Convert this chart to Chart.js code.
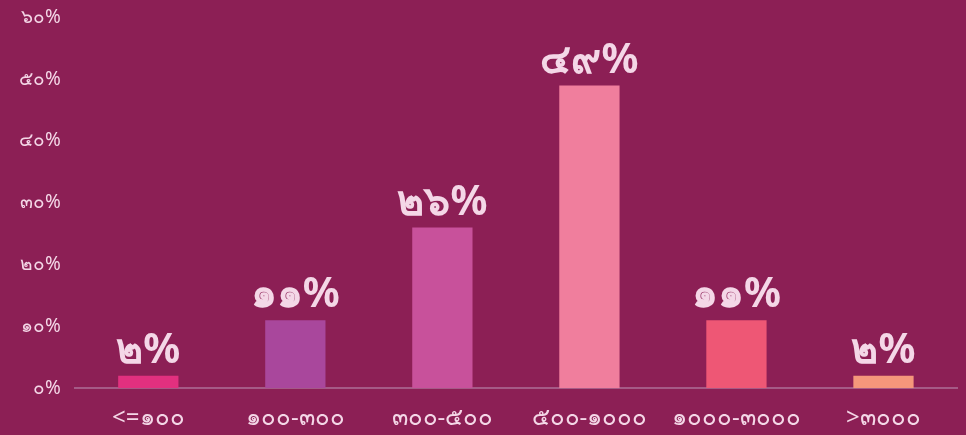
<!DOCTYPE html>
<html>
<head>
<meta charset="utf-8">
<script src="https://cdn.jsdelivr.net/npm/chart.js@4/dist/chart.umd.min.js"></script>
<style>
  html, body { margin: 0; padding: 0; background: #8c1f55; }
  #wrap { width: 966px; height: 435px; }
</style>
</head>
<body>
<div id="wrap"><canvas id="barChart"></canvas></div>
<script>
const categories = ['<=๑๐๐', '๑๐๐-๓๐๐', '๓๐๐-๕๐๐', '๕๐๐-๑๐๐๐', '๑๐๐๐-๓๐๐๐', '>๓๐๐๐'];
const shares = [2, 11, 26, 49, 11, 2];
const shareLabels = ['๒%', '๑๑%', '๒๖%', '๔๙%', '๑๑%', '๒%'];
const yTickLabels = ['๐%', '๑๐%', '๒๐%', '๓๐%', '๔๐%', '๕๐%', '๖๐%'];
const barColors = ['#e2307f', '#a9479c', '#c8519b', '#f07e9d', '#ee5775', '#f5977b'];

const fontStack = '"Noto Sans", "DejaVu Sans", sans-serif';
const textColor = '#f4d7e7';

// writes the percentage above each bar
const valueLabels = {
    id: 'valueLabels',
    afterDatasetsDraw(chart) {
        const c = chart.ctx;
        const meta = chart.getDatasetMeta(0);
        c.save();
        c.font = 'bold 41px ' + fontStack;
        c.fillStyle = textColor;
        c.textAlign = 'center';
        c.textBaseline = 'bottom';
        meta.data.forEach((bar, i) => {
            c.fillText(shareLabels[i], bar.x, bar.y - 4);
        });
        c.restore();
    }
};

const ctx = document.getElementById('barChart').getContext('2d');

new Chart(ctx, {
    type: 'bar',
    data: {
        labels: categories,
        datasets: [{
            data: shares,
            backgroundColor: barColors,
            barPercentage: 0.41,
            categoryPercentage: 1
        }]
    },
    options: {
        responsive: true,
        maintainAspectRatio: false,
        animation: false,
        layout: { padding: { top: 4, right: 9, left: 13, bottom: -6 } },
        plugins: {
            legend: { display: false },
            tooltip: { enabled: false }
        },
        scales: {
            x: {
                grid: { display: false },
                border: { color: '#a55a86', width: 2 },
                ticks: {
                    color: textColor,
                    font: { family: fontStack, size: 24 },
                    padding: 8
                }
            },
            y: {
                min: 0,
                max: 60,
                grid: { display: false },
                border: { display: false },
                ticks: {
                    stepSize: 10,
                    color: textColor,
                    font: { family: fontStack, size: 19 },
                    padding: 6,
                    callback: (v) => yTickLabels[v / 10]
                }
            }
        }
    },
    plugins: [valueLabels]
});
</script>
</body>
</html>
